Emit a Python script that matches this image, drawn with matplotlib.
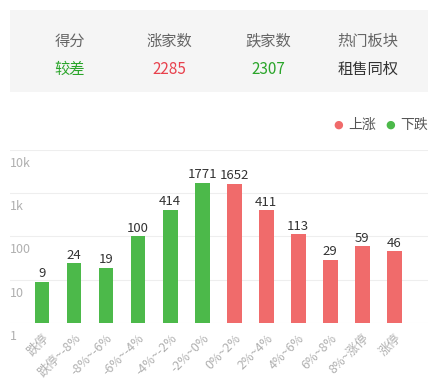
import numpy as np
import matplotlib.pyplot as plt
from matplotlib.patches import FancyBboxPatch
import matplotlib.transforms as mtransforms

plt.rcParams['font.family'] = ['Noto Sans CJK SC', 'DejaVu Sans']

# header
head_titles = ['得分', '涨家数', '跌家数', '热门板块']
head_values = ['较差', '2285', '2307', '租售同权']
head_colors = ['#2aa52a', '#e8414d', '#2aa52a', '#333333']

# chart data
categories = ['跌停', '跌停~-8%', '-8%~-6%', '-6%~-4%', '-4%~-2%', '-2%~0%',
              '0%~2%', '2%~4%', '4%~6%', '6%~8%', '8%~涨停', '涨停']
counts = [9, 24, 19, 100, 414, 1771, 1652, 411, 113, 29, 59, 46]
is_up = [False] * 6 + [True] * 6
y_ticks = [1, 10, 100, 1000, 10000]
y_tick_labels = ['1', '10', '100', '1k', '10k']

green = '#4cb94a'
red = '#f06b6b'

fig = plt.figure(figsize=(4.36, 3.88), dpi=100)

# gray header box
box = FancyBboxPatch((10 / 436, 1 - 92 / 388), 418 / 436, 82 / 388,
                     boxstyle='square,pad=0', transform=fig.transFigure,
                     facecolor='#f5f5f5', edgecolor='none')
fig.patches.append(box)
head_x = [70, 169, 268, 368]
for x, t, v, c in zip(head_x, head_titles, head_values, head_colors):
    fig.text(x / 436, 1 - 41 / 388, t, ha='center', va='center',
             fontsize=11, color='#666666')
    fig.text(x / 436, 1 - 69 / 388, v, ha='center', va='center',
             fontsize=11, color=c)

# legend
fig.text(338 / 436, 1 - 125 / 388, '●', color=red, fontsize=8,
         ha='center', va='center', family='DejaVu Sans')
fig.text(348 / 436, 1 - 125 / 388, '上涨', color='#555555', fontsize=10,
         ha='left', va='center')
fig.text(390 / 436, 1 - 125 / 388, '●', color=green, fontsize=8,
         ha='center', va='center', family='DejaVu Sans')
fig.text(400 / 436, 1 - 125 / 388, '下跌', color='#555555', fontsize=10,
         ha='left', va='center')

ax = fig.add_axes([10 / 436, 1 - 323 / 388, 418 / 436, 173 / 388])
x = np.arange(len(categories))
colors = [red if u else green for u in is_up]
ax.bar(x, counts, width=0.46, color=colors, zorder=2)
ax.set_yscale('log')
ax.set_ylim(1, 10000)
ax.set_xlim(-1, 12.05)

for s in ax.spines.values():
    s.set_visible(False)
ax.set_yticks(y_ticks)
ax.set_yticklabels([])
ax.yaxis.set_minor_locator(plt.NullLocator())
ax.tick_params(axis='y', length=0)
ax.grid(axis='y', color='#eeeeee', linewidth=0.8, zorder=0)

trans = mtransforms.blended_transform_factory(ax.transAxes, ax.transData)
for v, lab in zip(y_ticks, y_tick_labels):
    ax.annotate(lab, (0.0, v), xycoords=trans, xytext=(0, -5),
                textcoords='offset points', ha='left', va='top',
                fontsize=9, color='#b0b0b0')

for xi, c in zip(x, counts):
    ax.annotate(str(c), (xi, c), xytext=(0, 1), textcoords='offset points',
                ha='center', va='bottom', fontsize=9.5, color='#333333')

ax.set_xticks(x)
ax.set_xticklabels(categories, rotation=45, ha='right',
                   rotation_mode='anchor', fontsize=9, color='#b0b0b0')
ax.tick_params(axis='x', length=0, pad=6)

fig.savefig('out.png', dpi=100)
